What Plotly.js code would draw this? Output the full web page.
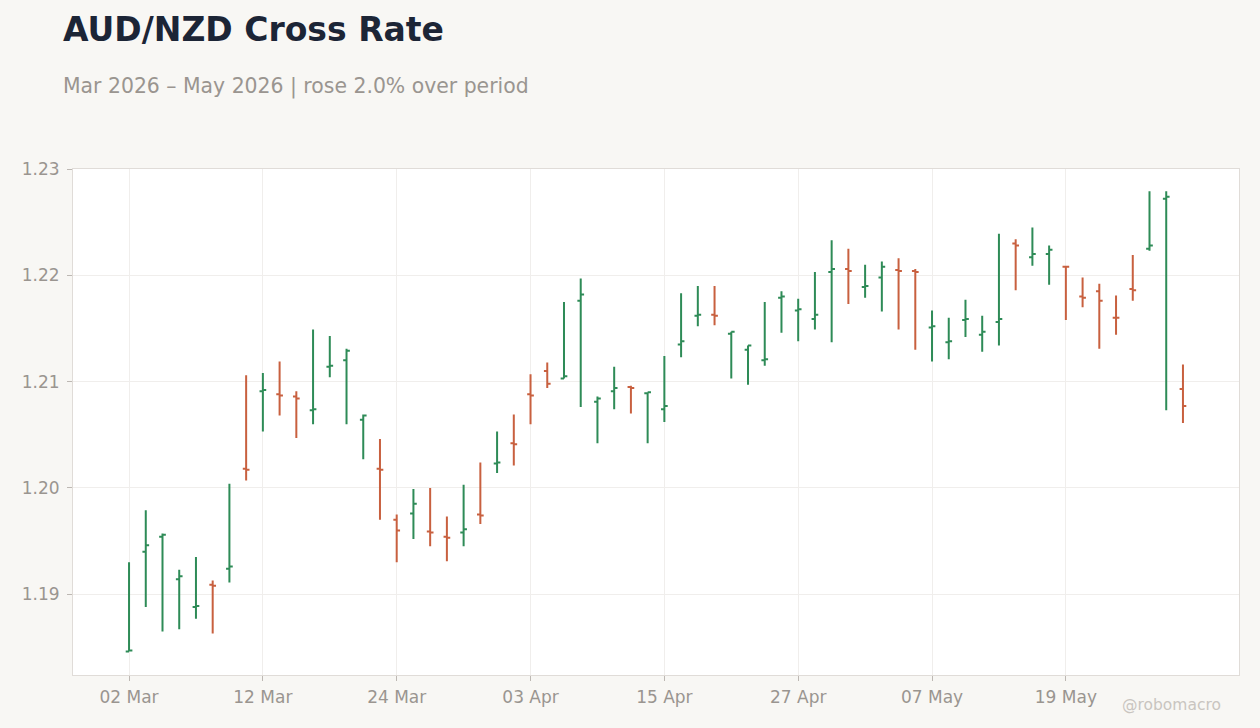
<!DOCTYPE html>
<html>
<head>
<meta charset="utf-8">
<script src="https://cdn.plot.ly/plotly-3.0.1.min.js"></script>
<style>
  html, body { margin: 0; padding: 0; background: #f8f7f4; }
  #chart { width: 1260px; height: 728px; }
</style>
</head>
<body>
<div id="chart"></div>
<script>
// Trading days, Mar - May 2026
var dates = [
    '2026-03-02', '2026-03-03', '2026-03-04', '2026-03-05', '2026-03-06',
    '2026-03-09', '2026-03-10', '2026-03-11', '2026-03-12', '2026-03-13',
    '2026-03-16', '2026-03-17', '2026-03-18', '2026-03-19', '2026-03-20',
    '2026-03-23', '2026-03-24', '2026-03-25', '2026-03-26', '2026-03-27',
    '2026-03-30', '2026-03-31', '2026-04-01', '2026-04-02', '2026-04-03',
    '2026-04-06', '2026-04-07', '2026-04-08', '2026-04-09', '2026-04-10',
    '2026-04-13', '2026-04-14', '2026-04-15', '2026-04-16', '2026-04-17',
    '2026-04-20', '2026-04-21', '2026-04-22', '2026-04-23', '2026-04-24',
    '2026-04-27', '2026-04-28', '2026-04-29', '2026-04-30', '2026-05-01',
    '2026-05-04', '2026-05-05', '2026-05-06', '2026-05-07', '2026-05-08',
    '2026-05-11', '2026-05-12', '2026-05-13', '2026-05-14', '2026-05-15',
    '2026-05-18', '2026-05-19', '2026-05-20', '2026-05-21', '2026-05-22',
    '2026-05-25', '2026-05-26', '2026-05-27', '2026-05-28'
];

var open = [
    1.1846, 1.1940, 1.1954, 1.1914, 1.1888, 1.1909, 1.1924, 1.2018, 1.2091, 1.2088,
    1.2086, 1.2073, 1.2114, 1.2120, 1.2064, 1.2018, 1.1970, 1.1976, 1.1959, 1.1954,
    1.1958, 1.1975, 1.2023, 1.2042, 1.2088, 1.2110, 1.2103, 1.2176, 1.2081, 1.2091,
    1.2095, 1.2089, 1.2074, 1.2135, 1.2162, 1.2163, 1.2145, 1.2130, 1.2120, 1.2179,
    1.2167, 1.2159, 1.2203, 1.2206, 1.2189, 1.2198, 1.2205, 1.2204, 1.2151, 1.2137,
    1.2158, 1.2144, 1.2156, 1.2230, 1.2217, 1.2220, 1.2208, 1.2180, 1.2185, 1.2160,
    1.2187, 1.2225, 1.2272, 1.2093
];
var high = [
    1.1930, 1.1979, 1.1957, 1.1923, 1.1935, 1.1913, 1.2004, 1.2106, 1.2108, 1.2119,
    1.2091, 1.2149, 1.2143, 1.2131, 1.2069, 1.2046, 1.1975, 1.1999, 1.2000, 1.1973,
    1.2003, 1.2024, 1.2053, 1.2069, 1.2107, 1.2118, 1.2175, 1.2197, 1.2086, 1.2114,
    1.2096, 1.2090, 1.2124, 1.2183, 1.2190, 1.2190, 1.2147, 1.2134, 1.2175, 1.2185,
    1.2178, 1.2203, 1.2233, 1.2225, 1.2210, 1.2213, 1.2216, 1.2206, 1.2167, 1.2160,
    1.2177, 1.2162, 1.2239, 1.2234, 1.2245, 1.2228, 1.2209, 1.2198, 1.2192, 1.2181,
    1.2219, 1.2279, 1.2279, 1.2116
];
var low = [
    1.1846, 1.1888, 1.1865, 1.1867, 1.1877, 1.1863, 1.1911, 1.2007, 1.2053, 1.2068,
    1.2047, 1.2060, 1.2104, 1.2060, 1.2027, 1.1970, 1.1930, 1.1952, 1.1945, 1.1931,
    1.1945, 1.1966, 1.2014, 1.2021, 1.2060, 1.2094, 1.2103, 1.2076, 1.2042, 1.2074,
    1.2070, 1.2042, 1.2062, 1.2123, 1.2152, 1.2153, 1.2103, 1.2097, 1.2115, 1.2146,
    1.2138, 1.2149, 1.2137, 1.2173, 1.2179, 1.2166, 1.2149, 1.2130, 1.2119, 1.2121,
    1.2142, 1.2128, 1.2134, 1.2186, 1.2209, 1.2191, 1.2158, 1.2170, 1.2131, 1.2144,
    1.2176, 1.2223, 1.2073, 1.2061
];
var close = [
    1.1847, 1.1946, 1.1956, 1.1917, 1.1889, 1.1908, 1.1926, 1.2017, 1.2092, 1.2087,
    1.2084, 1.2074, 1.2115, 1.2129, 1.2068, 1.2017, 1.1960, 1.1985, 1.1958, 1.1953,
    1.1961, 1.1974, 1.2024, 1.2041, 1.2087, 1.2098, 1.2105, 1.2182, 1.2084, 1.2094,
    1.2094, 1.2090, 1.2077, 1.2138, 1.2163, 1.2162, 1.2147, 1.2134, 1.2121, 1.2180,
    1.2168, 1.2163, 1.2206, 1.2204, 1.2190, 1.2208, 1.2204, 1.2203, 1.2152, 1.2138,
    1.2159, 1.2147, 1.2159, 1.2228, 1.2220, 1.2224, 1.2208, 1.2179, 1.2176, 1.2160,
    1.2186, 1.2228, 1.2274, 1.2077
];

var tick_vals = ['2026-03-02', '2026-03-12', '2026-03-24', '2026-04-03',
                 '2026-04-15', '2026-04-27', '2026-05-07', '2026-05-19'];
var tick_text = ['02 Mar', '12 Mar', '24 Mar', '03 Apr', '15 Apr', '27 Apr', '07 May', '19 May'];

var trace = {
    type: 'ohlc',
    x: dates,
    open: open,
    high: high,
    low: low,
    close: close,
    tickwidth: 0.2,
    increasing: { line: { color: '#2e8b57', width: 2 } },
    decreasing: { line: { color: '#c8603f', width: 2 } },
    hoverinfo: 'skip',
    showlegend: false
};

var layout = {
    width: 1260,
    height: 728,
    margin: { l: 73, r: 21, t: 169, b: 53, pad: 0 },
    paper_bgcolor: '#f8f7f4',
    plot_bgcolor: '#ffffff',
    font: { family: 'DejaVu Sans, sans-serif', size: 17, color: '#9a9590' },
    title: {
        text: '<b>AUD/NZD Cross Rate</b>',
        font: { family: 'DejaVu Sans, sans-serif', size: 33, color: '#1c2536' },
        x: 0.05,
        xanchor: 'left',
        xref: 'container',
        y: 0.96,
        yanchor: 'middle',
        yref: 'container'
    },
    xaxis: {
        type: 'category',
        range: [-3.35, 66.35],
        tickvals: tick_vals,
        ticktext: tick_text,
        showgrid: true,
        gridcolor: '#f0eeec',
        gridwidth: 1,
        ticks: 'outside',
        ticklen: 5,
        tickcolor: '#bdb8b3',
        ticklabelstandoff: 2,
        showline: true,
        linecolor: '#e0dcd8',
        linewidth: 1,
        mirror: true,
        rangeslider: { visible: false },
        tickfont: { size: 17, color: '#9a9590' },
        zeroline: false
    },
    yaxis: {
        range: [1.1824, 1.2300],
        tickvals: [1.19, 1.20, 1.21, 1.22, 1.23],
        ticktext: ['1.19', '1.20', '1.21', '1.22', '1.23'],
        showgrid: true,
        gridcolor: '#f0eeec',
        gridwidth: 1,
        ticks: 'outside',
        ticklen: 5,
        tickcolor: '#bdb8b3',
        ticklabelstandoff: 4,
        showline: true,
        linecolor: '#e0dcd8',
        linewidth: 1,
        mirror: true,
        tickfont: { size: 17, color: '#9a9590' },
        zeroline: false
    },
    annotations: [
        {
            text: 'Mar 2026 \u2013 May 2026 | rose 2.0% over period',
            xref: 'paper', yref: 'paper',
            x: -0.0103, y: 1.164,
            xanchor: 'left', yanchor: 'middle',
            showarrow: false,
            font: { family: 'DejaVu Sans, sans-serif', size: 20.4, color: '#9a9590' }
        },
        {
            text: '@robomacro',
            xref: 'paper', yref: 'paper',
            x: 0.9425, y: -0.059,
            xanchor: 'center', yanchor: 'middle',
            showarrow: false,
            font: { family: 'DejaVu Sans, sans-serif', size: 15.5, color: '#c9c5c0' }
        }
    ]
};

Plotly.newPlot('chart', [trace], layout, { displayModeBar: false, staticPlot: true });
</script>
</body>
</html>
